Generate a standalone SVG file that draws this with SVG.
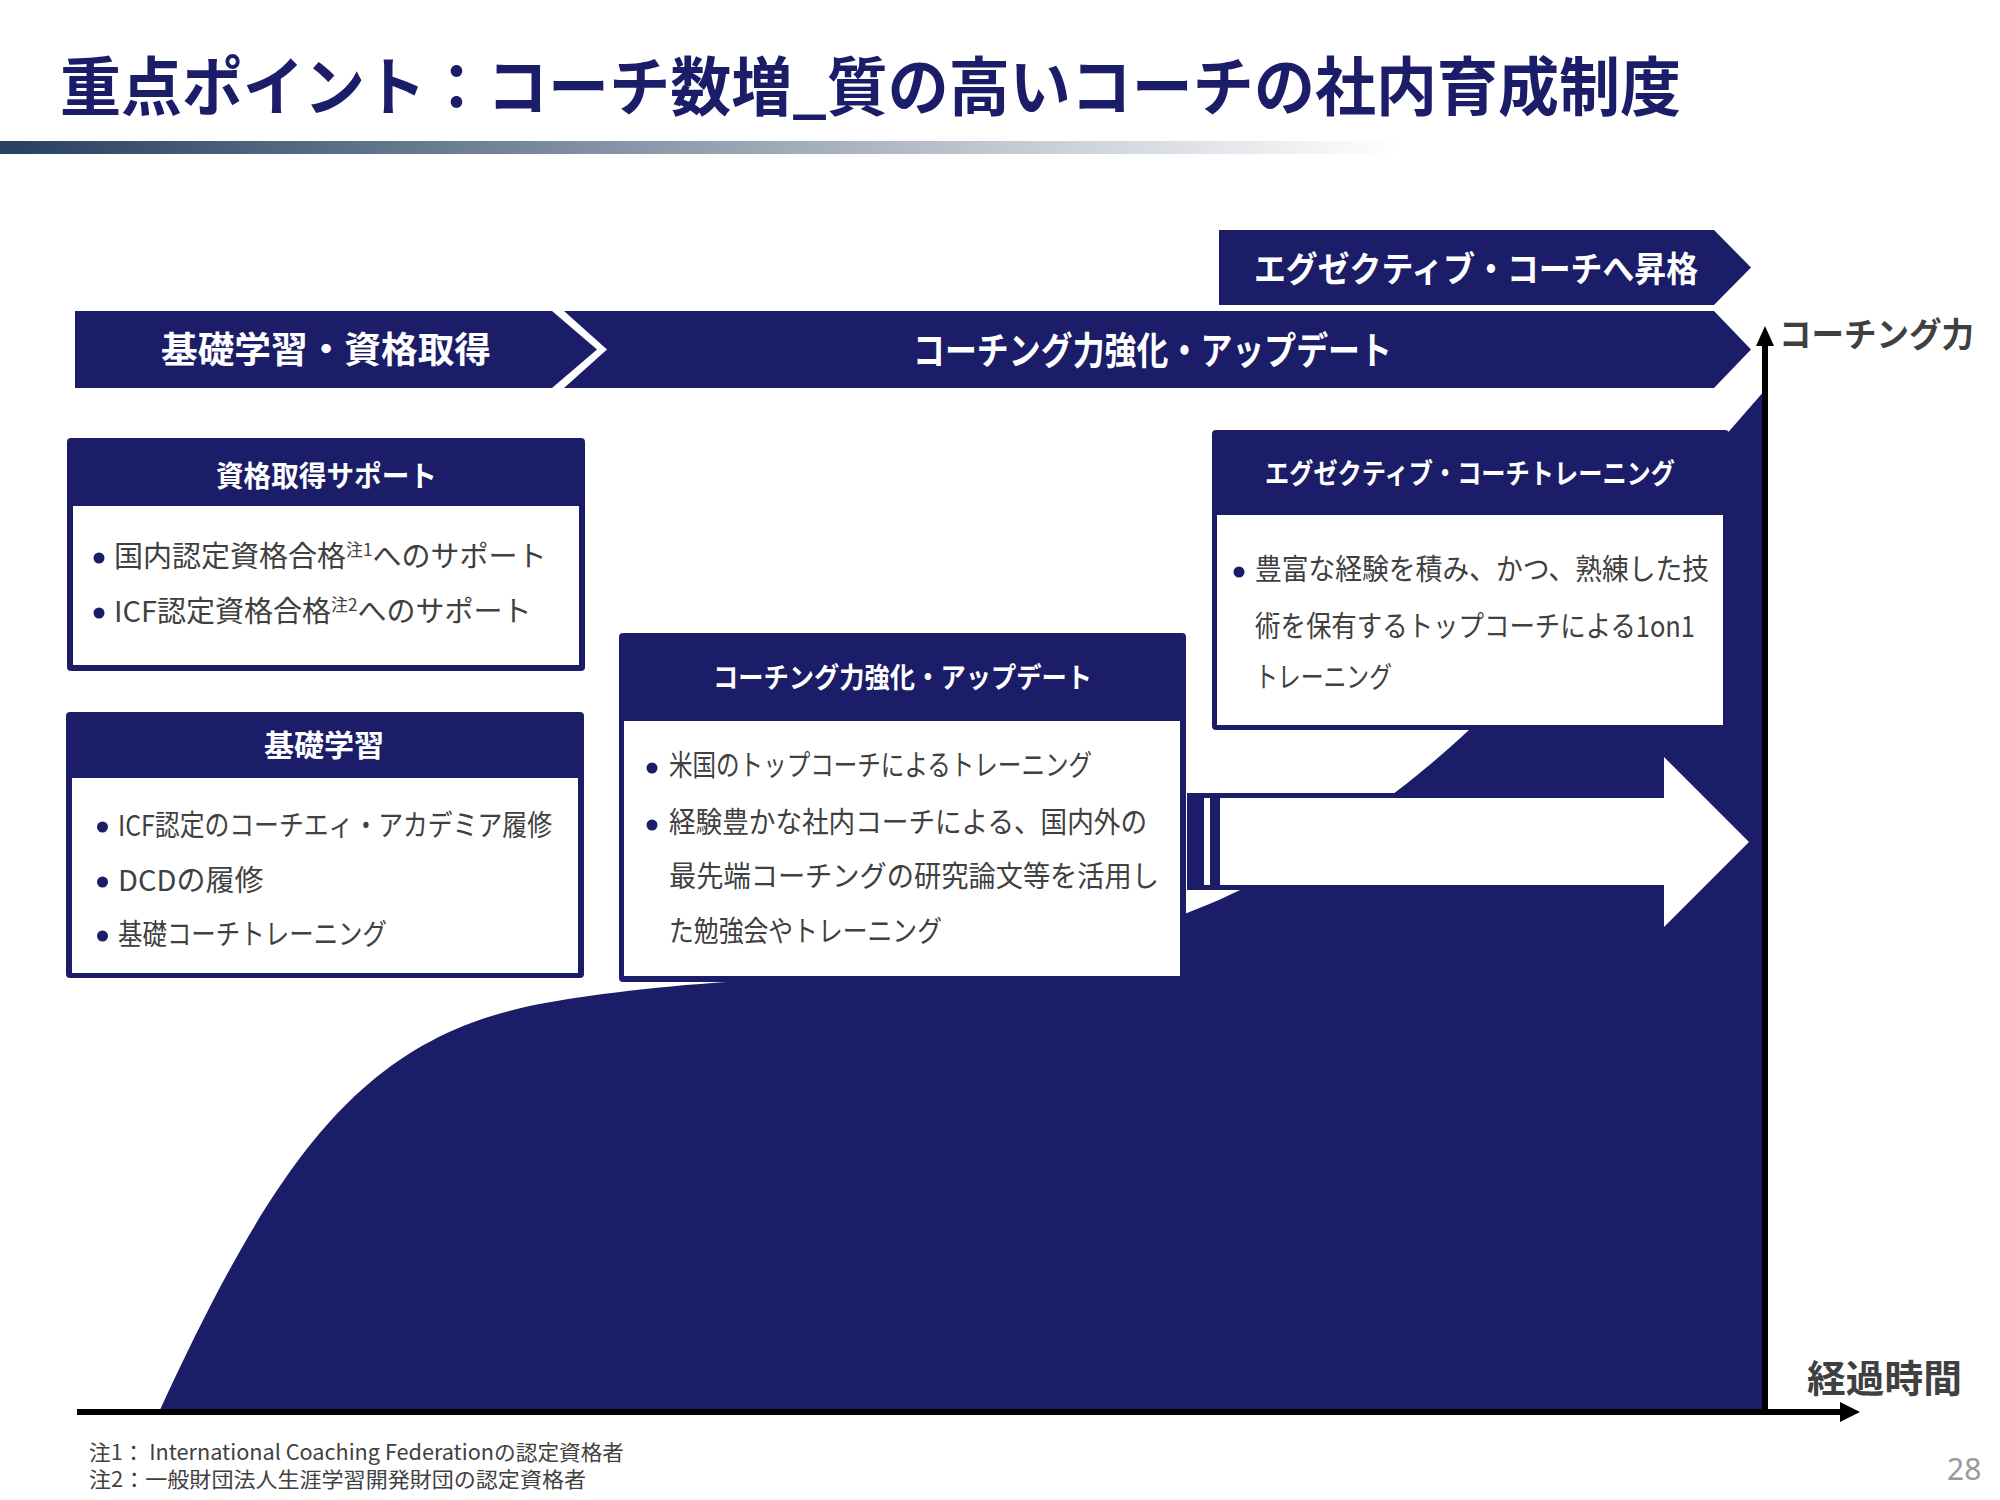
<svg xmlns="http://www.w3.org/2000/svg" width="2000" height="1500" viewBox="0 0 2000 1500">
<defs>
<style>
.nv{fill:#1b1d69}
.wt{fill:#ffffff}
.hd{font-family:"Noto Sans CJK JP","Noto Sans",sans-serif;font-weight:700;fill:#ffffff}
.bd{font-family:"Noto Sans CJK JP","Noto Sans",sans-serif;font-weight:400;fill:#404040;font-size:29px}
.ax{font-family:"Noto Sans CJK JP","Noto Sans",sans-serif;font-weight:700;fill:#404040}
.fn{font-family:"Noto Sans CJK JP","Noto Sans",sans-serif;font-weight:400;fill:#404040;font-size:21px}
.axl{stroke:#000000;stroke-width:6;fill:none}
</style>
<linearGradient id="gbar" x1="0" y1="0" x2="1400" y2="0" gradientUnits="userSpaceOnUse">
<stop offset="0" stop-color="#26405f"/>
<stop offset="1" stop-color="#ffffff"/>
</linearGradient>
</defs>
<rect width="2000" height="1500" fill="#ffffff"/>

<g id="title">
<text x="60" y="110" font-family="'Noto Sans CJK JP','Noto Sans',sans-serif" font-weight="700" font-size="64" fill="#1b1d69" textLength="1621" lengthAdjust="spacingAndGlyphs">重点ポイント：コーチ数増_質の高いコーチの社内育成制度</text>
<rect x="0" y="141" width="1400" height="13" fill="url(#gbar)"/>
</g>

<g id="area">
<path class="nv" d="M159 1412 C280 1149 367 1035 545 1003 C600 993 680 984 760 980 C900 975 1100 946 1187 913 C1290 875 1400 795 1469 730 L1765 390 L1765 1412 Z"/>
</g>

<g id="phase-top">
<polygon class="nv" points="1219,230 1714,230 1751,267.5 1714,305 1219,305"/>
<text class="hd" x="1254" y="282" font-size="35" textLength="444" lengthAdjust="spacingAndGlyphs">エグゼクティブ・コーチへ昇格</text>
</g>

<g id="phase-1">
<polygon class="nv" points="75,311 552,311 597,349.5 552,388 75,388"/>
<text class="hd" x="161" y="363" font-size="36" textLength="330" lengthAdjust="spacingAndGlyphs">基礎学習・資格取得</text>
</g>

<g id="phase-2">
<polygon class="nv" points="564,311 1714,311 1751,349.5 1714,388 564,388 607,349.5"/>
<text class="hd" x="913" y="364" font-size="38" textLength="479" lengthAdjust="spacingAndGlyphs">コーチング力強化・アップデート</text>
</g>

<g id="box-shikaku">
<rect class="nv" x="67" y="438" width="518" height="233" rx="4"/>
<rect class="wt" x="73" y="506" width="506" height="159"/>
<text class="hd" x="216" y="487" font-size="29" textLength="221" lengthAdjust="spacingAndGlyphs">資格取得サポート</text>
<circle class="nv" cx="99" cy="558" r="5.5"/>
<text class="bd" x="114" y="567">国内認定資格合格<tspan font-size="17" dy="-11">注1</tspan><tspan dy="11">へのサポート</tspan></text>
<circle class="nv" cx="99" cy="613" r="5.5"/>
<text class="bd" x="114" y="622">ICF認定資格合格<tspan font-size="17" dy="-11">注2</tspan><tspan dy="11">へのサポート</tspan></text>
</g>

<g id="box-kiso">
<rect class="nv" x="66" y="712" width="518" height="266" rx="4"/>
<rect class="wt" x="72" y="778" width="506" height="195"/>
<text class="hd" x="264" y="756" font-size="30" textLength="120" lengthAdjust="spacingAndGlyphs">基礎学習</text>
<circle class="nv" cx="102.5" cy="827" r="5.5"/>
<text class="bd" x="118" y="836" textLength="434" lengthAdjust="spacingAndGlyphs">ICF認定のコーチエィ・アカデミア履修</text>
<circle class="nv" cx="102.5" cy="882" r="5.5"/>
<text class="bd" x="118" y="891">DCDの履修</text>
<circle class="nv" cx="102.5" cy="936" r="5.5"/>
<text class="bd" x="118" y="945" textLength="269" lengthAdjust="spacingAndGlyphs">基礎コーチトレーニング</text>
</g>

<g id="box-kyoka">
<rect class="nv" x="619" y="633" width="567" height="349" rx="4"/>
<rect class="wt" x="624" y="721" width="556" height="255"/>
<text class="hd" x="713" y="688" font-size="28" textLength="379" lengthAdjust="spacingAndGlyphs">コーチング力強化・アップデート</text>
<circle class="nv" cx="652" cy="768" r="5.5"/>
<text class="bd" x="669" y="776" textLength="423" lengthAdjust="spacingAndGlyphs">米国のトップコーチによるトレーニング</text>
<circle class="nv" cx="652" cy="825" r="5.5"/>
<text class="bd" x="669" y="833" textLength="478" lengthAdjust="spacingAndGlyphs">経験豊かな社内コーチによる、国内外の</text>
<text class="bd" x="669" y="887" textLength="490" lengthAdjust="spacingAndGlyphs">最先端コーチングの研究論文等を活用し</text>
<text class="bd" x="669" y="942" textLength="273" lengthAdjust="spacingAndGlyphs">た勉強会やトレーニング</text>
</g>

<g id="box-exec">
<rect class="nv" x="1212" y="430" width="517" height="300" rx="4"/>
<rect class="wt" x="1217" y="515" width="506" height="210"/>
<text class="hd" x="1265" y="484" font-size="28" textLength="410" lengthAdjust="spacingAndGlyphs">エグゼクティブ・コーチトレーニング</text>
<circle class="nv" cx="1239" cy="572" r="5.5"/>
<text class="bd" x="1255" y="580" textLength="454" lengthAdjust="spacingAndGlyphs">豊富な経験を積み、かつ、熟練した技</text>
<text class="bd" x="1255" y="637" textLength="440" lengthAdjust="spacingAndGlyphs">術を保有するトップコーチによる1on1</text>
<text class="bd" x="1255" y="688" textLength="137" lengthAdjust="spacingAndGlyphs">トレーニング</text>
</g>

<g id="striped-arrow">
<polygon class="nv" points="1187,793 1659,793 1659,747 1756,842 1659,937 1659,890 1187,890"/>
<rect class="wt" x="1204" y="798" width="6" height="87"/>
<polygon class="wt" points="1220,798 1664,798 1664,757 1749,842 1664,927 1664,885 1220,885"/>
</g>

<g id="connectors">
<line class="axl" x1="1765" y1="1415" x2="1765" y2="342"/>
<polygon fill="#000000" points="1765,326 1756,346 1774,346"/>
<line class="axl" x1="77" y1="1412" x2="1843" y2="1412"/>
<polygon fill="#000000" points="1860,1412 1840,1402 1840,1422"/>
</g>

<g id="axis-labels">
<text class="ax" x="1779" y="347" font-size="34" textLength="195" lengthAdjust="spacingAndGlyphs">コーチング力</text>
<text class="ax" x="1807" y="1392" font-size="38" textLength="155" lengthAdjust="spacingAndGlyphs">経過時間</text>
</g>

<g id="footnotes">
<text class="fn" x="89" y="1460" textLength="535" lengthAdjust="spacingAndGlyphs">注1： International Coaching Federationの認定資格者</text>
<text class="fn" x="89" y="1487" textLength="497" lengthAdjust="spacingAndGlyphs">注2：一般財団法人生涯学習開発財団の認定資格者</text>
<text x="1947" y="1480" font-family="'Noto Sans','Liberation Sans',sans-serif" font-size="30" fill="#999999">28</text>
</g>
</svg>
